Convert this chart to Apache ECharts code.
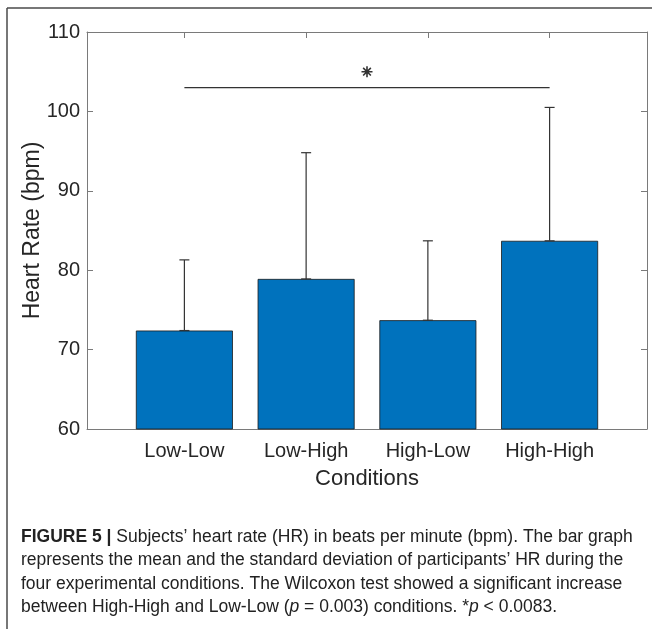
<!DOCTYPE html>
<html><head><meta charset="utf-8">
<script src="https://cdn.jsdelivr.net/npm/echarts@6/dist/echarts.min.js"></script>
<style>html,body{margin:0;padding:0;background:#fff}#c{width:652px;height:629px}</style>
</head><body><div id="c"></div>
<script>
// ---- data ----
const categories = ['Low-Low', 'Low-High', 'High-Low', 'High-High'];
const meanHR = [72.4, 78.9, 73.7, 83.7];
const sdHR = [8.9, 15.9, 10.0, 16.8];
const yTicks = [60, 70, 80, 90, 100, 110];
const sigPair = [1, 4];      // categories compared (1-based)
const sigLevel = 103;        // bracket height (bpm)
const starLevel = 105;       // asterisk height (bpm)

const xPos = categories.map((c, i) => i + 1);
const barData = meanHR.map((m, i) => [xPos[i], m]);
const errData = meanHR.map((m, i) => [xPos[i], m, m + sdHR[i]]);
const FONT = '"Liberation Sans", Arial, Helvetica, sans-serif';
const AX = '#7a7a7a';
const CAP = 17.5;

const chart = echarts.init(document.getElementById('c'), null, {renderer: 'canvas'});
chart.setOption({
  animation: false,
  backgroundColor: '#fff',
  grid: {left: 87, top: 32, right: 5, bottom: 200, containLabel: false},
  xAxis: [{
    type: 'value', min: 0.2, max: 4.8, position: 'bottom',
    axisLine: {show: true, onZero: false, lineStyle: {color: AX, width: 1}},
    axisTick: {show: true, inside: true, length: 6, customValues: xPos, lineStyle: {color: AX}},
    axisLabel: {show: true, customValues: xPos, margin: 12, color: '#262626', fontSize: 20, fontFamily: FONT,
      formatter: v => categories[Math.round(v) - 1] || ''},
    splitLine: {show: false},
    name: 'Conditions', nameLocation: 'middle', nameGap: 39,
    nameTextStyle: {color: '#262626', fontSize: 22, fontFamily: FONT}
  }, {
    type: 'value', min: 0.2, max: 4.8, position: 'top',
    axisLine: {show: true, onZero: false, lineStyle: {color: AX, width: 1}},
    axisTick: {show: true, inside: true, length: 6, customValues: xPos, lineStyle: {color: AX}},
    axisLabel: {show: false}, splitLine: {show: false}
  }],
  yAxis: [{
    type: 'value', min: 60, max: 110, interval: 10, position: 'left',
    axisLine: {show: true, onZero: false, lineStyle: {color: AX, width: 1}},
    axisTick: {show: true, inside: true, length: 6, lineStyle: {color: AX}},
    axisLabel: {margin: 7, color: '#262626', fontSize: 20, fontFamily: FONT,
      customValues: yTicks},
    splitLine: {show: false},
    name: 'Heart Rate (bpm)', nameLocation: 'middle', nameGap: 43, nameMoveOverlap: false,
    nameTextStyle: {color: '#262626', fontSize: 23, fontFamily: FONT}
  }, {
    type: 'value', min: 60, max: 110, interval: 10, position: 'right',
    axisLine: {show: true, onZero: false, lineStyle: {color: AX, width: 1}},
    axisTick: {show: true, inside: true, length: 6, lineStyle: {color: AX}},
    axisLabel: {show: false}, splitLine: {show: false}
  }],
  series: [{
    type: 'bar', data: barData, barWidth: 97,
    itemStyle: {color: '#0072BD', borderColor: '#1a1a1a', borderWidth: 0.8},
    z: 2
  }, {
    type: 'custom', data: errData, z: 3,
    renderItem: (params, api) => {
      const x = api.value(0);
      const p0 = api.coord([x, api.value(1)]);
      const p1 = api.coord([x, api.value(2)]);
      const cap = 5;
      return {type: 'group', children: [
        {type: 'line', shape: {x1: p0[0], y1: p0[1], x2: p1[0], y2: p1[1]}, style: {stroke: '#333', lineWidth: 1.2}},
        {type: 'line', shape: {x1: p1[0] - cap, y1: p1[1], x2: p1[0] + cap, y2: p1[1]}, style: {stroke: '#333', lineWidth: 1.2}},
        {type: 'line', shape: {x1: p0[0] - cap, y1: p0[1], x2: p0[0] + cap, y2: p0[1]}, style: {stroke: '#333', lineWidth: 1.2}}
      ]};
    }
  }, {
    type: 'line', data: [[sigPair[0], sigLevel], [sigPair[1], sigLevel]],
    symbol: 'none', lineStyle: {color: '#333', width: 1.2}, z: 4
  }, {
    type: 'scatter', data: [[(sigPair[0] + sigPair[1]) / 2, starLevel]],
    symbol: 'path://M5 0L5 10M0 5L10 5M1.5 1.5L8.5 8.5M8.5 1.5L1.5 8.5',
    symbolSize: 11,
    itemStyle: {color: 'none', borderColor: '#000', borderWidth: 1.6}, z: 4
  }],
  graphic: [
    {type: 'line', shape: {x1: 7, y1: 8, x2: 7, y2: 629}, style: {stroke: '#4a4a4a', lineWidth: 1.5}},
    {type: 'line', shape: {x1: 7, y1: 8, x2: 652, y2: 8}, style: {stroke: '#4a4a4a', lineWidth: 1.5}},
    {type: 'text', left: 21, top: 525, style: {
      text: '{b|FIGURE 5 |} Subjects’ heart rate (HR) in beats per minute (bpm). The bar graph\n' +
            'represents the mean and the standard deviation of participants’ HR during the\n' +
            'four experimental conditions. The Wilcoxon test showed a significant increase\n' +
            'between High-High and Low-Low ({i|p} = 0.003) conditions. *{i|p} < 0.0083.',
      fontSize: CAP, fontFamily: FONT, fill: '#222', lineHeight: 23.5,
      rich: {
        b: {fontWeight: 'bold', fontSize: CAP, fontFamily: FONT, fill: '#222', lineHeight: 23.5},
        i: {fontStyle: 'italic', fontSize: CAP, fontFamily: FONT, fill: '#222', lineHeight: 23.5}
      }
    }}
  ]
});
</script></body></html>
